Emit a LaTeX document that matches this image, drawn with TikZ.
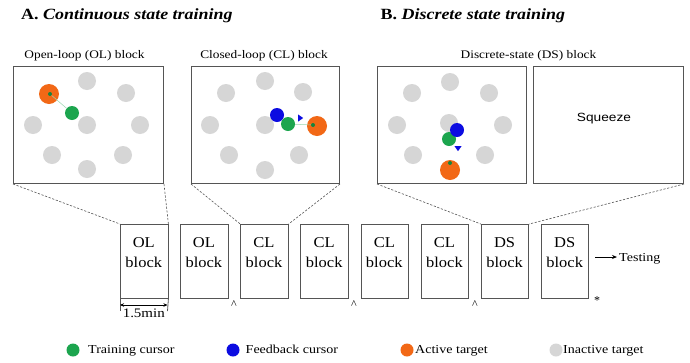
\documentclass[tikz,border=0pt]{standalone}
\usepackage{fontspec}
\setmainfont{Liberation Serif}
\newfontfamily\arialfont{Liberation Sans}
\usetikzlibrary{arrows.meta,calc,shapes.geometric}
\definecolor{cgreen}{RGB}{28,165,78}
\definecolor{cblue}{RGB}{12,12,225}
\definecolor{corange}{RGB}{242,104,22}
\definecolor{cgray}{RGB}{214,214,214}
\definecolor{cline}{RGB}{85,85,85}
\newcommand\hs[1]{\scalebox{1.15}[1]{#1}}
\newcommand\hb[1]{\scalebox{1.1}[1]{#1}}
\begin{document}
\begin{tikzpicture}[x=1pt,y=-1pt,
  panel/.style={draw=cline, line width=1pt, rectangle, inner sep=0pt, anchor=north west, minimum height=117pt},
  blk/.style={draw=cline, line width=0.9pt, rectangle, inner sep=0pt, anchor=north west, minimum width=47.5pt, minimum height=74pt},
  btxt/.style={inner sep=0pt, anchor=base, font=\fontsize{15}{18}\selectfont},
  ptitle/.style={inner sep=0pt, anchor=base, font=\fontsize{11.6}{14}\selectfont},
  htitle/.style={inner sep=0pt, anchor=base west, font=\fontsize{15.6}{18}\selectfont\bfseries},
  ltxt/.style={inner sep=0pt, anchor=base west, font=\fontsize{12.2}{14}\selectfont},
  inact/.style={circle, fill=cgray, minimum size=18pt, inner sep=0pt},
  act/.style={circle, fill=corange, minimum size=20pt, inner sep=0pt},
  train/.style={circle, fill=cgreen, minimum size=14pt, inner sep=0pt},
  fbk/.style={circle, fill=cblue, minimum size=14pt, inner sep=0pt},
  dot/.style={circle, fill=cgreen!80!black, minimum size=4pt, inner sep=0pt},
  tri/.style={isosceles triangle, fill=cblue, minimum size=5pt, inner sep=0pt, isosceles triangle apex angle=70},
  leg/.style={circle, minimum size=13pt, inner sep=0pt},
  dashln/.style={draw=cline, line width=0.6pt, dash pattern=on 2.2pt off 1.6pt},
  guide/.style={draw=cgreen!45, line width=0.5pt}
]
\useasboundingbox (0,0) rectangle (690,362);
\fill[white] (0,0) rectangle (690,362);

% headings
\node[htitle] (ha) at (21,19.5) {\hs{A. \textit{Continuous state training}}};
\node[htitle] (hb) at (380.5,19.5) {\hs{B. \textit{Discrete state training}}};

% panel titles
\node[ptitle] (tol) at (84.5,58) {\hs{Open-loop (OL) block}};
\node[ptitle] (tcl) at (264,58) {\hs{Closed-loop (CL) block}};
\node[ptitle] (tds) at (528.5,58) {\hs{Discrete-state (DS) block}};

% panels
\node[panel, minimum width=150pt] (pol) at (13,66) {};
\node[panel, minimum width=148pt] (pcl) at (191,66) {};
\node[panel, minimum width=149pt] (pds) at (377,66) {};
\node[panel, minimum width=150pt] (psq) at (533,66) {};

% OL panel targets
\node[inact] (o1) at (87,81) {};
\node[inact] (o2) at (126,93) {};
\node[inact] (o3) at (140,125) {};
\node[inact] (o4) at (123,155) {};
\node[inact] (o5) at (87,169) {};
\node[inact] (o6) at (52,155) {};
\node[inact] (o7) at (33,125) {};
\node[inact] (o0) at (87,125) {};
\node[act] (oa) at (49,94) {};
\node[dot] (od) at (50,94) {};
\node[train] (og) at (72,113) {};
\draw[guide] (od) -- (og);

% CL panel targets
\node[inact] (c1) at (265,81) {};
\node[inact] (c2) at (303,92) {};
\node[inact] (c4) at (299,155) {};
\node[inact] (c5) at (265,170) {};
\node[inact] (c6) at (229,155) {};
\node[inact] (c7) at (210,125) {};
\node[inact] (c8) at (226,93) {};
\node[inact] (c0) at (265,125) {};
\node[act] (ca) at (317,126) {};
\node[dot] (cd) at (313,125) {};
\node[train] (cg) at (288,124) {};
\draw[guide] (cg) -- (cd);
\node[fbk] (cb) at (277,115) {};
\node[tri] (ct) at (300,118) {};

% DS panel targets
\node[inact] (d1) at (450,82) {};
\node[inact] (d2) at (489,93) {};
\node[inact] (d3) at (503,125) {};
\node[inact] (d4) at (485,155) {};
\node[inact] (d6) at (413,155) {};
\node[inact] (d7) at (397,125) {};
\node[inact] (d8) at (412,93) {};
\node[inact] (d0) at (449,123) {};
\node[act] (da) at (450,170) {};
\node[dot] (dd) at (450,163) {};
\node[train] (dg) at (449,139) {};
\node[fbk] (db) at (457,130) {};
\node[tri, shape border rotate=-90] (dt) at (458,148) {};

% squeeze
\node[inner sep=0pt, anchor=base, font=\arialfont\fontsize{11.9}{14}\selectfont] (sq) at (604,121) {\hs{Squeeze}};

% blocks
\foreach \i/\t in {1/OL,2/OL,3/CL,4/CL,5/CL,6/CL,7/DS,8/DS}{
  \node[blk] (b\i) at ({120+60.14*(\i-1)},224) {};
  \node[btxt] (u\i) at ({143.75+60.14*(\i-1)},247.5) {\hb{\t}};
  \node[btxt] (k\i) at ({143.75+60.14*(\i-1)},267) {\hb{block}};
}

% dashed zoom lines
\draw[dashln] (pol.south west) -- (b1.north west);
\draw[dashln] (pol.south east) -- (b1.north east);
\draw[dashln] (pcl.south west) -- (b3.north west);
\draw[dashln] (pcl.south east) -- (b3.north east);
\draw[dashln] (pds.south west) -- (b7.north west);
\draw[dashln] (psq.south east) -- (b7.north east);

% markers
\node[inner sep=0pt, anchor=base, font=\fontsize{12}{14}\selectfont] (m1) at (234,308.5) {\textasciicircum};
\node[inner sep=0pt, anchor=base, font=\fontsize{12}{14}\selectfont] (m2) at (354,308.5) {\textasciicircum};
\node[inner sep=0pt, anchor=base, font=\fontsize{12}{14}\selectfont] (m3) at (475,308.5) {\textasciicircum};
\node[inner sep=0pt, anchor=base, font=\fontsize{12}{14}\selectfont] (m4) at (597,304) {*};

% duration
\coordinate (tl) at (120,311);
\coordinate (tr) at (167.5,311);
\coordinate (al) at (120,305);
\coordinate (ar) at (167.5,305);
\draw[cline, line width=0.8pt] (b1.south west) -- (tl);
\draw[cline, line width=0.8pt] (b1.south east) -- (tr);
\draw[black, line width=0.8pt, {Stealth[length=4pt,width=3.5pt]}-{Stealth[length=4pt,width=3.5pt]}] (al) -- (ar);
\node[inner sep=0pt, anchor=base, font=\fontsize{13}{15}\selectfont] (dur) at (143.75,317.5) {\hs{1.5min}};

% testing
\node[ltxt] (test) at (619,261.5) {\hs{Testing}};
\coordinate (ts) at (595,257);
\draw[black, line width=0.8pt, -{Stealth[length=5pt,width=4pt]}] (ts) -- ([xshift=-2pt]test.west |- ts);

% legend
\node[leg, fill=cgreen] (lg) at (73,350) {};
\node[ltxt] (lgt) at (88,353.5) {\hs{Training cursor}};
\node[leg, fill=cblue] (lb) at (233,350) {};
\node[ltxt] (lbt) at (245.5,353.5) {\hs{Feedback cursor}};
\node[leg, fill=corange] (lo) at (407,350) {};
\node[ltxt] (lot) at (415,353.5) {\hs{Active target}};
\node[leg, fill=cgray] (lq) at (556,350) {};
\node[ltxt] (lqt) at (563,353.5) {\hs{Inactive target}};
\end{tikzpicture}
\end{document}
